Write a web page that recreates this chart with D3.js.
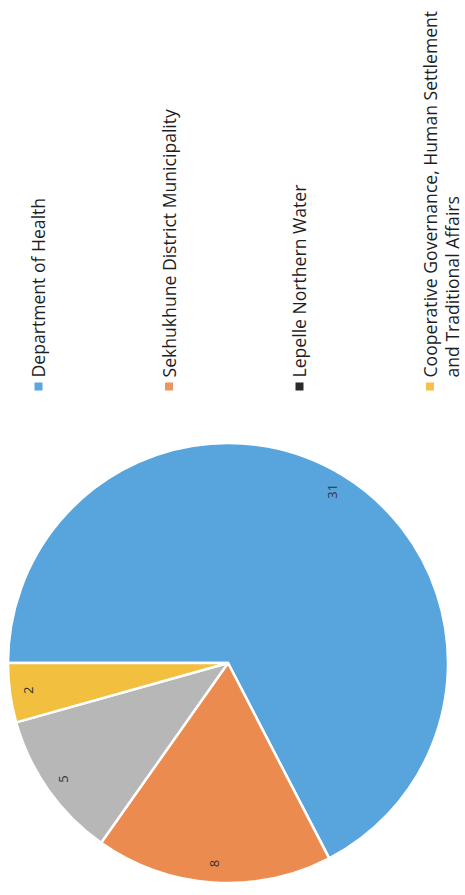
<!DOCTYPE html>
<html>
<head>
<meta charset="utf-8">
<script src="https://cdn.jsdelivr.net/npm/d3@7"></script>
<style>
  html, body { margin: 0; padding: 0; background: #fff; }
  svg { display: block; }
</style>
</head>
<body>
<svg id="chart" width="465" height="895"></svg>
<script>
// ---- data ----
const categories = [
  "Department of Health",
  "Sekhukhune District Municipality",
  "Lepelle Northern Water",
  "Cooperative Governance, Human Settlement and Traditional Affairs"
];
const values = [31, 8, 5, 2];
const legendLines = [
  ["Department of Health"],
  ["Sekhukhune District Municipality"],
  ["Lepelle Northern Water"],
  ["Cooperative Governance, Human Settlement", "and Traditional Affairs"]
];
const sliceColors = ["#57A5DC", "#EC8B50", "#B7B7B7", "#F2BF3F"];
const legendColors = ["#5AA8DE", "#EC9560", "#2A2A2A", "#F4C04A"];

// ---- drawing ----
const W = 895, H = 465; // the original (unrotated) page
const svg = d3.select("#chart");
svg.append("rect").attr("width", 465).attr("height", 895).attr("fill", "#fff");

// The page was scanned rotated 90° counter-clockwise
const g = svg.append("g").attr("transform", `translate(0,${W}) rotate(-90)`);

const cx = 232, cy = 228, r = 220;
const pie = d3.pie().sort(null).value(d => d)(values);
const arc = d3.arc().innerRadius(0).outerRadius(r);
const labelArc = d3.arc().innerRadius(201).outerRadius(201);

const pg = g.append("g").attr("transform", `translate(${cx},${cy})`);
pg.selectAll("path.slice").data(pie).join("path")
  .attr("class", "slice")
  .attr("d", arc)
  .attr("fill", (d, i) => sliceColors[i])
  .attr("stroke", "#fff")
  .attr("stroke-width", 2.5)
  .attr("stroke-linejoin", "round");

pg.selectAll("text.lbl").data(pie).join("text")
  .attr("class", "lbl")
  .attr("transform", d => `translate(${labelArc.centroid(d)})`)
  .attr("text-anchor", "middle")
  .attr("dy", "0.35em")
  .attr("font-family", "'Open Sans', sans-serif")
  .attr("font-size", 13)
  .attr("fill", "#333")
  .text(d => d.data);

// legend
const ly = d3.scalePoint().domain(categories).range([38.5, 430]);
const lx = 508.5;
const lg = g.append("g");
const items = lg.selectAll("g.item").data(categories).join("g")
  .attr("class", "item")
  .attr("transform", d => `translate(${lx},${ly(d)})`);
items.append("rect")
  .attr("x", -4).attr("y", -4).attr("width", 8).attr("height", 8)
  .attr("fill", (d, i) => legendColors[i]);
items.each(function(d, i) {
  const t = d3.select(this).append("text")
    .attr("font-family", "'Open Sans', sans-serif")
    .attr("font-size", 17.6)
    .attr("fill", "#1e1e1e");
  legendLines[i].forEach((line, j) => {
    t.append("tspan").attr("x", 9).attr("y", 6.5 + j * 22).text(line);
  });
});
</script>
</body>
</html>
